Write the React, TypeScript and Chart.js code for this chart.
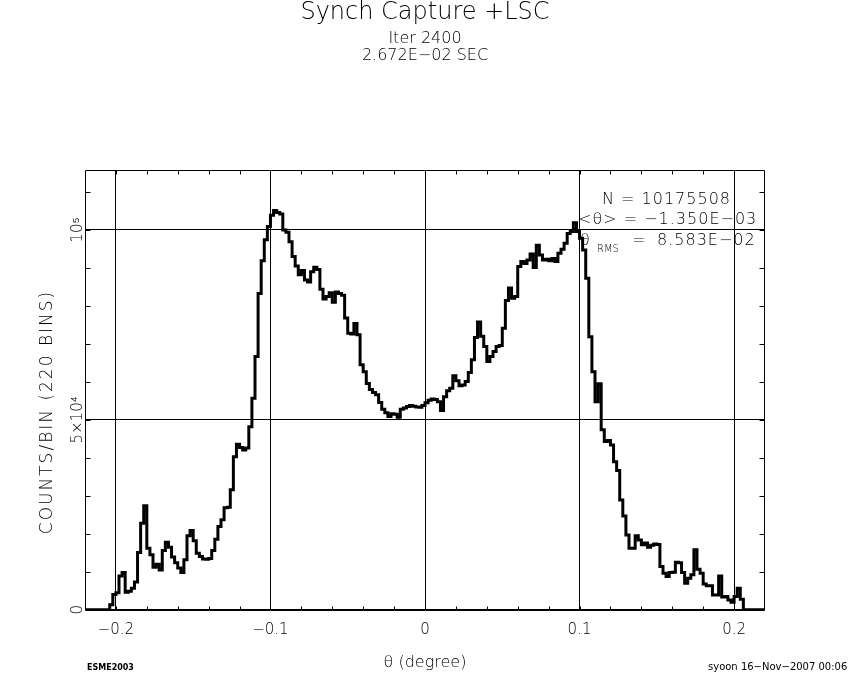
import React, { useEffect, useRef } from 'react';
import { Chart, registerables } from 'chart.js';

Chart.register(...registerables);

const FONT = '"DejaVu Sans", "Liberation Sans", sans-serif';
const W = '200';

const TITLE = 'Synch Capture +LSC';
const SUBTITLE = ['Iter 2400', '2.672E\u221202 SEC'];
const X_TITLE = '\u03b8 (degree)';
const Y_TITLE = 'COUNTS/BIN (220 BINS)';
const FOOT_LEFT = 'ESME2003';
const FOOT_RIGHT = 'syoon 16\u2212Nov\u22122007 00:06';
const STAT_N = 'N = 10175508';
const STAT_MEAN = '<\u03b8> = \u22121.350E\u221203';
const STAT_RMS_SYM = '\u03b8';
const STAT_RMS_SUB = 'RMS';
const STAT_RMS_EQ = '=';
const STAT_RMS_VAL = '8.583E\u221202';

// Histogram binning
const X_MIN = -0.22;
const X_MAX = 0.22;
const BIN_WIDTH = 0.002;
const Y_MAX = 115800;

// Major ticks (grid lines) and labels
const X_MAJOR = [-0.2, -0.1, 0, 0.1, 0.2];
const X_MAJOR_LABELS = ['\u22120.2', '\u22120.1', '0', '0.1', '0.2'];
const Y_MAJOR = [0, 50000, 100000];
const Y_MAJOR_LABELS = ['0', '5\u00d710\u2074', '10\u2075'];

// Minor ticks
const X_MINOR = [-0.2, -0.18, -0.16, -0.14, -0.12, -0.1, -0.08, -0.06, -0.04, -0.02, 0, 0.02, 0.04, 0.06, 0.08, 0.1, 0.12, 0.14, 0.16, 0.18, 0.2];
const Y_MINOR = [10000, 20000, 30000, 40000, 50000, 60000, 70000, 80000, 90000, 100000, 110000];

// Counts per bin (220 bins, left to right)
const COUNTS = [
  0, 0, 0, 0, 0, 0, 0, 0, 1300, 4000,
  4500, 8900, 9800, 4600, 4900, 5700, 7300, 15100, 22800, 27400,
  16200, 14500, 11200, 12000, 10500, 15600, 17800, 16500, 13900, 12400,
  11000, 9800, 13200, 19500, 20900, 18200, 14900, 14000, 13400, 13300,
  13500, 15600, 18600, 21900, 23700, 26900, 27000, 31600, 40300, 43600,
  42700, 42100, 42600, 48200, 55700, 66700, 83300, 91900, 97400, 100900,
  103900, 105100, 104600, 104200, 100000, 99400, 96900, 93000, 90500, 88200,
  89300, 86800, 86300, 89000, 90200, 89600, 84400, 81800, 82500, 83500,
  81000, 83700, 83300, 82800, 76800, 72800, 72600, 75400, 72400, 64500,
  62700, 59600, 58000, 57200, 56600, 54600, 52800, 51900, 50900, 51600,
  51500, 50700, 52800, 53100, 53500, 53800, 53600, 53400, 53300, 53800,
  54500, 55200, 55500, 55400, 54800, 52500, 56100, 57700, 58300, 61600,
  60300, 59000, 59200, 60100, 62500, 65800, 71700, 75800, 72000, 69300,
  65400, 66700, 68000, 69300, 69600, 74100, 81400, 84700, 82000, 82500,
  90400, 91700, 91200, 92100, 93700, 90100, 96000, 93400, 92100, 92300,
  91900, 92500, 91700, 93900, 94900, 96500, 99100, 99600, 101900, 99600,
  97800, 94700, 87300, 71900, 62700, 54800, 59500, 47400, 44300, 44600,
  43400, 39000, 36700, 28900, 24700, 19700, 16200, 16200, 19500, 18400,
  17100, 17600, 16500, 17000, 17300, 17200, 11400, 9600, 8800, 9800,
  9900, 12500, 12400, 9800, 7000, 8300, 9200, 15800, 10700, 9600,
  6800, 6300, 6300, 3900, 3900, 8900, 3400, 3500, 2600, 2000,
  3500, 5700, 2800, 0, 0, 0, 0, 0, 0, 0,
];

function setSpacing(ctx: any, v: string) {
  try { ctx.letterSpacing = v; } catch (e) { /* ignore */ }
}

const overlayPlugin = {
  id: 'overlay',
  afterDatasetsDraw(chart: any) {
    const { ctx, chartArea: a, scales } = chart;
    const x = scales.x;
    const y = scales.y;
    ctx.save();
    ctx.strokeStyle = '#000';
    ctx.lineWidth = 1;
    const L = Math.round(a.left) + 0.5;
    const T = Math.round(a.top) + 0.5;
    const R = Math.round(a.right) - 0.5;
    const B = Math.round(a.bottom) + 0.5;
    ctx.beginPath();
    ctx.moveTo(L, T);
    ctx.lineTo(R, T);
    ctx.lineTo(R, B);
    ctx.lineTo(L, B);
    ctx.closePath();
    X_MINOR.forEach((v) => {
      const px = Math.round(x.getPixelForValue(v)) + 0.5;
      ctx.moveTo(px, B);
      ctx.lineTo(px, B - 4);
      ctx.moveTo(px, T);
      ctx.lineTo(px, T + 4);
    });
    Y_MINOR.forEach((v) => {
      const py = Math.round(y.getPixelForValue(v)) + 0.5;
      ctx.moveTo(L, py);
      ctx.lineTo(L + 5, py);
      ctx.moveTo(R, py);
      ctx.lineTo(R - 5, py);
    });
    ctx.stroke();
    ctx.restore();
  },
  afterDraw(chart: any) {
    const { ctx, chartArea: a, scales } = chart;
    const y = scales.y;
    ctx.save();
    ctx.fillStyle = '#000';
    // y tick labels (rotated)
    ctx.font = `${W} 15px ${FONT}`;
    ctx.textAlign = 'center';
    ctx.textBaseline = 'alphabetic';
    Y_MAJOR.forEach((v, i) => {
      const py = y.getPixelForValue(v);
      ctx.save();
      ctx.translate(a.left - 3, py);
      ctx.rotate(-Math.PI / 2);
      ctx.fillText(Y_MAJOR_LABELS[i], 0, 0);
      ctx.restore();
    });
    // y axis title
    ctx.save();
    ctx.font = `${W} 17px ${FONT}`;
    setSpacing(ctx, '2px');
    ctx.translate(52, 412);
    ctx.rotate(-Math.PI / 2);
    ctx.fillText(Y_TITLE, 0, 0);
    ctx.restore();
    // stats box
    ctx.textAlign = 'left';
    ctx.font = `${W} 16px ${FONT}`;
    setSpacing(ctx, '1px');
    ctx.fillText(STAT_N, 602, 203.5);
    ctx.fillText(STAT_MEAN, 578, 223.5);
    ctx.fillText(STAT_RMS_SYM, 580, 245);
    ctx.fillText(STAT_RMS_EQ, 632, 245);
    ctx.fillText(STAT_RMS_VAL, 657, 245);
    setSpacing(ctx, '0px');
    ctx.font = `${W} 10px ${FONT}`;
    ctx.fillText(STAT_RMS_SUB, 597, 252);
    // footers
    ctx.font = `bold 8px ${FONT}`;
    ctx.fillText(FOOT_LEFT, 87, 670);
    ctx.font = `10px ${FONT}`;
    ctx.fillText(FOOT_RIGHT, 708, 670);
    ctx.restore();
  },
};

export default function App() {
  const canvasRef = useRef<HTMLCanvasElement | null>(null);

  useEffect(() => {
    const canvas = canvasRef.current;
    if (!canvas) return;
    const points = COUNTS.map((c, i) => ({ x: X_MIN + i * BIN_WIDTH, y: c }));
    points.push({ x: X_MAX, y: COUNTS[COUNTS.length - 1] });

    const chart = new Chart(canvas, {
      type: 'line',
      data: {
        datasets: [
          {
            data: points,
            borderColor: '#000',
            borderWidth: 3,
            pointRadius: 0,
            fill: false,
            stepped: 'before',
            tension: 0,
            borderJoinStyle: 'miter',
          },
        ],
      },
      options: {
        responsive: false,
        animation: false,
        devicePixelRatio: 1,
        events: [],
        layout: { padding: { left: 85, right: 85, top: 0, bottom: 8 } },
        plugins: {
          legend: { display: false },
          tooltip: { enabled: false },
          title: {
            display: true,
            text: TITLE,
            color: '#000',
            font: { family: FONT, size: 24, weight: W, lineHeight: 1 },
            padding: { top: 1, bottom: 0 },
          },
          subtitle: {
            display: true,
            text: SUBTITLE,
            color: '#000',
            font: { family: FONT, size: 16, weight: W, lineHeight: 1.03 },
            padding: { top: 6, bottom: 106 },
          },
        },
        scales: {
          x: {
            type: 'linear',
            min: X_MIN,
            max: X_MAX,
            afterBuildTicks: (s: any) => {
              s.ticks = X_MAJOR.map((v) => ({ value: v }));
            },
            ticks: {
              callback: (v: any, i: number) => X_MAJOR_LABELS[i],
              padding: 11,
              color: '#000',
              font: { family: FONT, size: 15, weight: W },
              maxRotation: 0,
              minRotation: 0,
              autoSkip: false,
            },
            grid: { color: '#000', lineWidth: 1, drawTicks: false },
            border: { display: false },
            title: {
              display: true,
              text: X_TITLE,
              color: '#000',
              font: { family: FONT, size: 16, weight: W },
              padding: { top: 3, bottom: 0 },
            },
          },
          y: {
            type: 'linear',
            min: 0,
            max: Y_MAX,
            afterBuildTicks: (s: any) => {
              s.ticks = Y_MAJOR.map((v) => ({ value: v }));
            },
            ticks: { display: false },
            grid: { color: '#000', lineWidth: 1, drawTicks: false },
            border: { display: false },
          },
        },
      } as any,
      plugins: [overlayPlugin],
    });
    return () => chart.destroy();
  }, []);

  return (
    <div style={{ position: 'absolute', left: 0, top: 0, width: 850, height: 680, background: '#fff' }}>
      <canvas ref={canvasRef} width={850} height={680} style={{ display: 'block', width: 850, height: 680 }} />
    </div>
  );
}
